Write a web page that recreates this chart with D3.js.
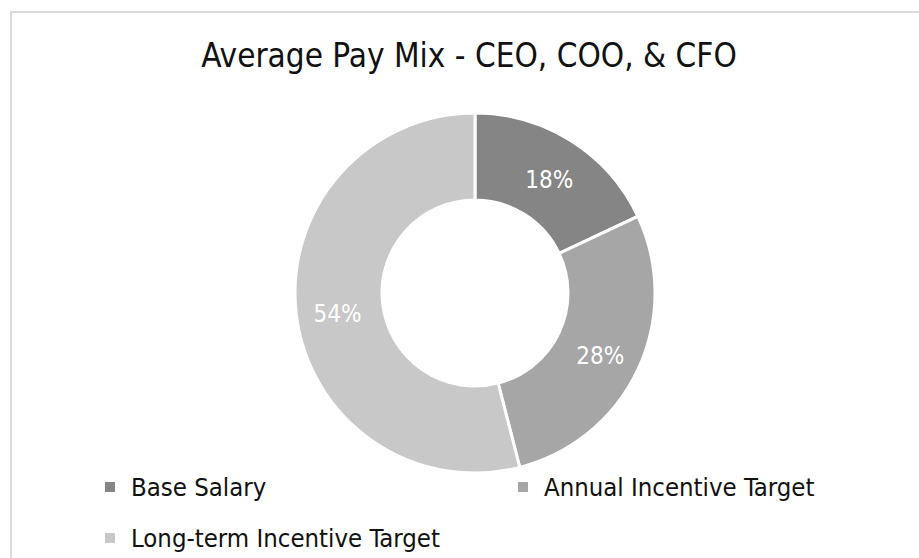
<!DOCTYPE html>
<html>
<head>
<meta charset="utf-8">
<script src="https://cdn.jsdelivr.net/npm/d3@7"></script>
<style>
  html, body { margin: 0; padding: 0; background: #fff; }
  svg { display: block; }
  text { font-family: "DejaVu Sans Condensed", "DejaVu Sans", sans-serif; }
</style>
</head>
<body>
<svg id="chart" width="919" height="558"></svg>
<script>
const title = "Average Pay Mix - CEO, COO, & CFO";
const categories = ["Base Salary", "Annual Incentive Target", "Long-term Incentive Target"];
const values = [18, 28, 54];
const colors = ["#858585", "#a6a6a6", "#c8c8c8"];

const svg = d3.select("#chart");

// chart area border (top & left visible)
svg.append("rect")
  .attr("x", 11).attr("y", 12)
  .attr("width", 940).attr("height", 600)
  .attr("fill", "#fff")
  .attr("stroke", "#d9d9d9")
  .attr("stroke-width", 2);

svg.append("text")
  .attr("x", 469).attr("y", 67)
  .attr("text-anchor", "middle")
  .attr("font-size", 33)
  .attr("fill", "#111")
  .text(title);

const cx = 475, cy = 293, R = 180, r = 93;
const pie = d3.pie().sort(null).value(d => d.v);
const arcs = pie(categories.map((c, i) => ({ c, v: values[i], col: colors[i] })));
const arc = d3.arc().innerRadius(r).outerRadius(R);
const labelArc = d3.arc().innerRadius((r + R) / 2 + 2).outerRadius((r + R) / 2 + 2);

const g = svg.append("g").attr("transform", `translate(${cx},${cy})`);
g.selectAll("path").data(arcs).join("path")
  .attr("d", arc)
  .attr("fill", d => d.data.col)
  .attr("stroke", "#fff")
  .attr("stroke-width", 3);

g.selectAll("text.lbl").data(arcs).join("text")
  .attr("class", "lbl")
  .attr("transform", d => `translate(${labelArc.centroid(d)})`)
  .attr("text-anchor", "middle")
  .attr("dy", "0.5em")
  .attr("font-size", 24)
  .attr("fill", "#fff")
  .text(d => d.data.v + "%");

// legend
const legendPos = [[110, 487], [523, 487], [110, 538]];
const lg = svg.append("g").selectAll("g").data(arcs).join("g")
  .attr("transform", (d, i) => `translate(${legendPos[i][0]},${legendPos[i][1]})`);
lg.append("rect").attr("x", -5).attr("y", -5).attr("width", 10).attr("height", 10)
  .attr("fill", d => d.data.col);
lg.append("text").attr("x", 21).attr("dy", "0.35em")
  .attr("font-size", 25.5).attr("fill", "#111")
  .text(d => d.data.c);
</script>
</body>
</html>
